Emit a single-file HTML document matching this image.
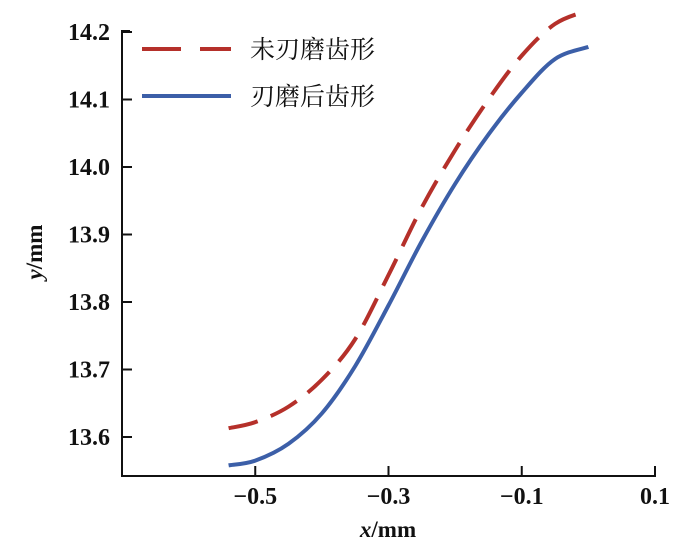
<!DOCTYPE html>
<html><head><meta charset="utf-8"><style>
body{margin:0;background:#fff}
svg text{font-family:"Liberation Serif","Noto Serif CJK SC",serif;fill:#111}
</style></head><body>
<svg id="chart" width="700" height="553">
<g id="axes"></g><g id="series"></g>
<g>
<line x1="142" y1="49" x2="231" y2="49" stroke="#b5302a" stroke-width="4" stroke-dasharray="39,19"/>
<text x="250" y="58" font-size="25">未刃磨齿形</text>
<line x1="142" y1="96" x2="231" y2="96" stroke="#3c5fa8" stroke-width="4"/>
<text x="250" y="105" font-size="25">刃磨后齿形</text>
</g>
<text x="388" y="537" font-size="23" font-weight="bold" text-anchor="middle"><tspan font-style="italic">x</tspan>/mm</text>
<text transform="translate(42,252) rotate(-90)" font-size="23" font-weight="bold" text-anchor="middle"><tspan font-style="italic">y</tspan>/mm</text>
</svg>
<script>
const xTicks=[-0.5,-0.3,-0.1,0.1];
const yTicks=[13.6,13.7,13.8,13.9,14.0,14.1,14.2];
const xs=[-0.54,-0.5,-0.45,-0.4,-0.35,-0.3,-0.25,-0.2,-0.15,-0.1,-0.05,0];
const ungroundY=[13.613,13.622,13.645,13.685,13.745,13.84,13.94,14.025,14.1,14.165,14.212,14.232];
const groundY=[13.558,13.565,13.59,13.635,13.705,13.795,13.89,13.975,14.048,14.11,14.16,14.178];
const NS='http://www.w3.org/2000/svg';
const X=v=>122+(v+0.7)/0.8*533;
const Y=v=>437-(v-13.6)*675;
const axes=document.getElementById('axes'),series=document.getElementById('series');
function mk(t,a,p){const e=document.createElementNS(NS,t);for(const k in a)e.setAttribute(k,a[k]);p.appendChild(e);return e;}
const ax=mk('path',{d:`M130 31H122V476H655V466`,fill:'none',stroke:'#111','stroke-width':2},axes);


xTicks.forEach(v=>{
 const l=mk('line',{x1:X(v),x2:X(v),y1:476,y2:466,stroke:'#111','stroke-width':2},axes);
 
 
 const t=mk('text',{x:X(v),y:504,'font-size':24,'font-weight':'bold','text-anchor':'middle'},axes);t.textContent=(v<0?'−':'')+Math.abs(v).toFixed(1);
 
 
});
yTicks.forEach(v=>{
 const l=mk('line',{x1:122,x2:132,y1:Y(v),y2:Y(v),stroke:'#111','stroke-width':2},axes);
 
 
 const t=mk('text',{x:110,y:Y(v)+8,'font-size':24,'text-anchor':'end','font-weight':'bold'},axes);t.textContent=v.toFixed(1);
 
 
});
function smooth(ys){
 const p=xs.map((x,i)=>[X(x),Y(ys[i])]);let d=`M${p[0][0]},${p[0][1]}`;
 for(let i=0;i<p.length-1;i++){const a=p[Math.max(0,i-1)],b=p[i],c=p[i+1],e=p[Math.min(p.length-1,i+2)];
  d+=`C${b[0]+(c[0]-a[0])/6},${b[1]+(c[1]-a[1])/6} ${c[0]-(e[0]-b[0])/6},${c[1]-(e[1]-b[1])/6} ${c[0]},${c[1]}`;}
 return d;}
const r=mk('path',{d:smooth(ungroundY),fill:'none',stroke:'#b5302a','stroke-width':4,'stroke-dasharray':'30,14'},series);


const b=mk('path',{d:smooth(groundY),fill:'none',stroke:'#3c5fa8','stroke-width':4},series);


</script>
</body></html>
